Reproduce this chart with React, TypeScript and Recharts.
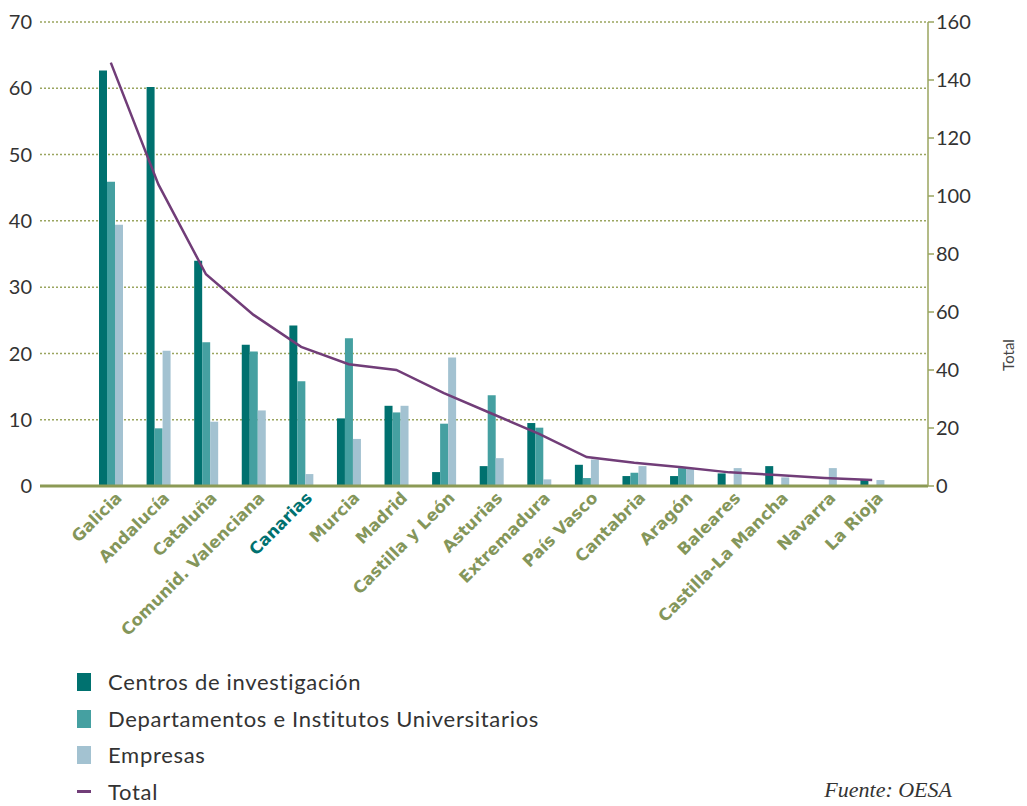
import { ComposedChart, Bar, Line, XAxis, YAxis, CartesianGrid } from "recharts";

const regions = [
  "Galicia",
  "Andalucía",
  "Cataluña",
  "Comunid. Valenciana",
  "Canarias",
  "Murcia",
  "Madrid",
  "Castilla y León",
  "Asturias",
  "Extremadura",
  "País Vasco",
  "Cantabria",
  "Aragón",
  "Baleares",
  "Castilla-La Mancha",
  "Navarra",
  "La Rioja",
];
const centros = [62.7, 60.2, 34.0, 21.3, 24.2, 10.2, 12.1, 2.1, 3.0, 9.5, 3.2, 1.5, 1.5, 1.9, 3.0, 0, 1.0];
const departamentos = [45.9, 8.7, 21.7, 20.3, 15.8, 22.3, 11.1, 9.4, 13.7, 8.8, 1.2, 2.0, 2.7, 0, 0, 0, 0];
const empresas = [39.4, 20.4, 9.7, 11.4, 1.8, 7.1, 12.1, 19.4, 4.2, 1.0, 4.0, 3.0, 2.6, 2.7, 1.3, 2.7, 0.9];
const total = [146, 104, 73, 59, 48, 42, 40, 32, 25, 18, 10, 8, 6.5, 4.7, 3.8, 2.8, 2.1];
const leftTicks = [0, 10, 20, 30, 40, 50, 60, 70];
const rightTicks = [0, 20, 40, 60, 80, 100, 120, 140, 160];

const data = regions.map((name, i) => ({
  name,
  centros: centros[i],
  departamentos: departamentos[i],
  empresas: empresas[i],
  total: total[i],
}));

const C_DARK = "#00716f";
const C_MID = "#45a0a1";
const C_LIGHT = "#a3c2d1";
const C_LINE = "#713d78";
const OLIVE = "#8c9a55";

const RegionTick = (props: any) => {
  const { x, y, payload } = props;
  const fill = payload.value === "Canarias" ? "#00716f" : "#84965a";
  return (
    <g transform={`translate(${x + 12},${y + 5})`}>
      <text
        textAnchor="end"
        transform="rotate(-45)"
        fill={fill}
        fontSize={16.5}
        fontWeight="bold"
        fontFamily="'DejaVu Sans', Verdana, sans-serif"
      >
        {payload.value}
      </text>
    </g>
  );
};

const legendItems = [
  { label: "Centros de investigación", color: C_DARK, kind: "bar" },
  { label: "Departamentos e Institutos Universitarios", color: C_MID, kind: "bar" },
  { label: "Empresas", color: C_LIGHT, kind: "bar" },
  { label: "Total", color: C_LINE, kind: "line" },
];

export default function App() {
  return (
    <div style={{ position: "absolute", left: 0, top: 0, width: 1027, height: 806, background: "#fff" }}>
      <ComposedChart
        width={1027}
        height={650}
        data={data}
        margin={{ top: 22, right: 0, left: 0, bottom: 0 }}
        barGap={0}
      >
        <CartesianGrid
          yAxisId="left"
          vertical={false}
          stroke="#9aa55f"
          strokeWidth={1.5}
          strokeDasharray="2 2"
        />
        <XAxis
          dataKey="name"
          interval={0}
          height={164}
          padding={{ left: 47, right: 32 }}
          axisLine={{ stroke: OLIVE, strokeWidth: 3 }}
          tickLine={false}
          tick={<RegionTick />}
        />
        <YAxis
          yAxisId="left"
          orientation="left"
          width={40}
          domain={[0, 70]}
          ticks={leftTicks}
          axisLine={false}
          tickLine={false}
          tick={{ fill: "#333", fontSize: 20, fontFamily: "Lato, sans-serif" }}
        />
        <YAxis
          yAxisId="right"
          orientation="right"
          width={99}
          domain={[0, 160]}
          ticks={rightTicks}
          axisLine={{ stroke: "#9aa55f", strokeWidth: 1.5 }}
          tickLine={{ stroke: "#9aa55f", strokeWidth: 1.5 }}
          tick={{ fill: "#333", fontSize: 20, fontFamily: "Lato, sans-serif", textAnchor: "start" }}
          label={{
            content: (p: any) => {
              const vb = p.viewBox;
              const tx = vb.x + 86;
              const ty = vb.y + 333;
              return (
                <text
                  x={tx}
                  y={ty}
                  transform={`rotate(-90, ${tx}, ${ty})`}
                  textAnchor="middle"
                  fill="#444"
                  fontSize={15}
                  fontFamily="Lato, sans-serif"
                >
                  Total
                </text>
              );
            },
          }}
        />
        <Bar yAxisId="left" dataKey="centros" fill={C_DARK} barSize={8} isAnimationActive={false} />
        <Bar yAxisId="left" dataKey="departamentos" fill={C_MID} barSize={8} isAnimationActive={false} />
        <Bar yAxisId="left" dataKey="empresas" fill={C_LIGHT} barSize={8} isAnimationActive={false} />
        <Line
          yAxisId="right"
          type="linear"
          dataKey="total"
          stroke={C_LINE}
          strokeWidth={2.5}
          dot={false}
          isAnimationActive={false}
        />
      </ComposedChart>

      <div style={{ position: "absolute", left: 77, top: 664 }}>
        {legendItems.map((it) => (
          <div
            key={it.label}
            style={{ display: "flex", alignItems: "center", height: 36.5 }}
          >
            <div style={{ width: 14, display: "flex", alignItems: "center", justifyContent: "center" }}>
              {it.kind === "bar" ? (
                <div style={{ width: 14, height: 18, background: it.color }} />
              ) : (
                <div style={{ width: 14, height: 3, background: it.color }} />
              )}
            </div>
            <span
              style={{
                marginLeft: 17,
                fontFamily: "Lato, sans-serif",
                fontSize: 22,
                lineHeight: "18px",
                letterSpacing: 0.7,
                color: "#333",
              }}
            >
              {it.label}
            </span>
          </div>
        ))}
      </div>

      <div
        style={{
          position: "absolute",
          right: 75,
          top: 779,
          fontFamily: "'Liberation Serif', serif",
          fontStyle: "italic",
          fontSize: 22,
          lineHeight: "22px",
          color: "#333",
        }}
      >
        Fuente: OESA
      </div>
    </div>
  );
}
